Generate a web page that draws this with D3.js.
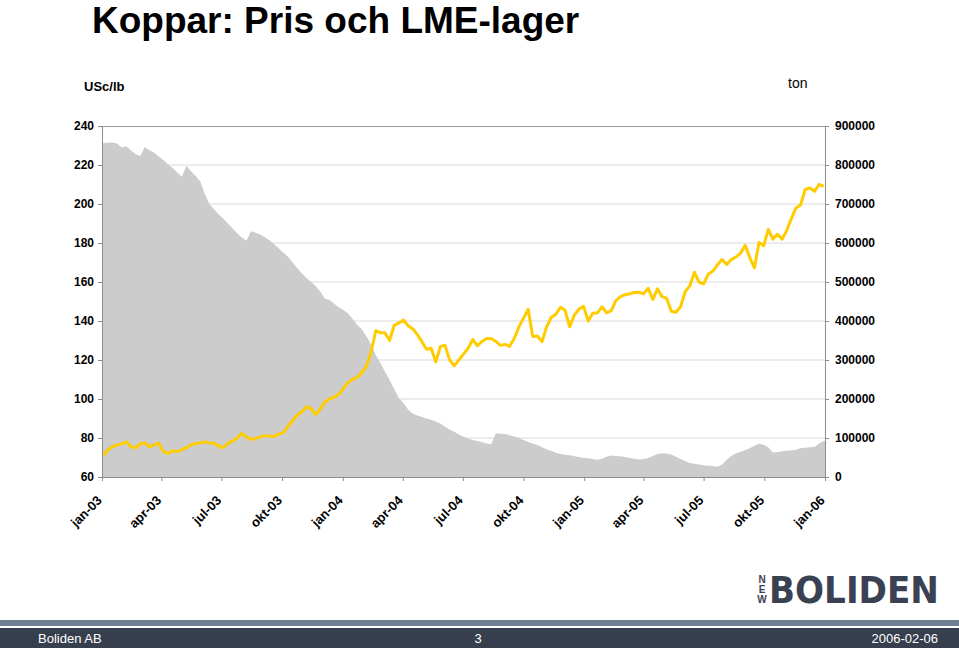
<!DOCTYPE html>
<html><head><meta charset="utf-8">
<script src="https://cdn.jsdelivr.net/npm/d3@7"></script>
<style>
html,body{margin:0;padding:0;background:#fff;}
svg{display:block;font-family:"Liberation Sans",Arial,sans-serif;}
</style></head>
<body>
<svg id="chart" width="959" height="648"></svg>
<script>
// ---- data (weekly, starting first Friday of 2003) ----
const startDate = "2003-01-03";
// copper price, USc/lb
const price = [71,74,75.5,76.5,77,78,75.5,75,77,77.5,75.5,76.5,77.4,73,72,73.5,73,74,75,76.5,
77.2,77.5,78,77.5,77.2,76,75,77.4,78.5,80,82.4,80.5,79.2,79.8,80.6,81.2,81,80.8,82,82.8,
86,89,91.8,93.5,96,95,92,95,98.5,100,101,102.5,105.5,108.5,110,111.2,113.5,117,124,135,
134,134,130,137.8,139,140.5,137.5,136,133,129.4,125.5,126,119,127,127.5,120,117,120,123,126,
130.5,127.3,129.5,131,131,129.5,127.5,128,127,131,137,141.5,146,132,132.3,129.4,137,141.8,143.5,147,
145.5,137,143,146,147.5,140,144,144.2,147.3,144.2,145.3,150.5,152.5,153.5,154,154.6,154.7,154,156.8,151,
156.5,152.5,151.6,145,144.5,147.3,155,158,165,160,159,164,165.6,168.8,171.5,169,171.5,172.8,174.8,178.8,
172.5,167.3,180.3,178.5,187,182,184.5,182,186.5,192.5,198,199.5,207.5,208.2,206.5,210,209];
// LME copper stocks, thousand tonnes
const stockK = [856,857,858,855,845,848,837,828,823,846,838,832,822,813,802,792,781,770,798,784,
772,758,725,700,686,673,662,650,637,625,614,606,630,626,622,615,607,597,586,575,
565,550,535,522,510,500,490,475,457,454,444,435,428,419,405,390,378,360,340,313,
292,270,249,225,202,190,173,163,158,154,150,147,142,137,129,122,116,109,103,99,
95,92,89,86,84,112,111,110,107,104,100,95,90,86,82,76,71,67,62,59,
57,56,53,51,49,48,46,44,47,52,55,54,53,51,49,47,45,46,49,54,
59,61,60,58,52,46,41,36,34,32,30,29,28,26,32,44,54,61,65,69,
74,80,85,83,76,63,64,66,67,68,70,74,75,76,77,86,92];
const leftTicks = [60,80,100,120,140,160,180,200,220,240];
const rightTicks = [0,100000,200000,300000,400000,500000,600000,700000,800000,900000];
const xTickLabels = ["jan-03","apr-03","jul-03","okt-03","jan-04","apr-04","jul-04","okt-04","jan-05","apr-05","jul-05","okt-05","jan-06"];

// ---- build ----
const parse = d3.timeParse("%Y-%m-%d");
const t0 = parse(startDate);
const rows = price.map((p,i)=>({date:d3.timeDay.offset(t0,7*i), price:p, stock:stockK[i]*1000}));
const xTickDates = xTickLabels.map((l,i)=>d3.timeMonth.offset(new Date(2003,0,1),3*i));

const L=102,R=825,T=126,B=477;
const svg=d3.select("#chart");
const x=d3.scaleTime().domain([new Date(2003,0,1),new Date(2006,0,1)]).range([L,R]);
const yL=d3.scaleLinear().domain([60,240]).range([B,T]);
const yR=d3.scaleLinear().domain([0,900000]).range([B,T]);

// title
svg.append("text").attr("x",92).attr("y",33).attr("font-size",37).attr("font-weight","bold")
  .attr("fill","#000").text("Koppar: Pris och LME-lager");
svg.append("text").attr("x",84).attr("y",91).attr("font-size",13).attr("font-weight","bold").text("USc/lb");
svg.append("text").attr("x",788).attr("y",88).attr("font-size",14).text("ton");

// gridlines
svg.append("g").selectAll("line").data(leftTicks.slice(1,-1)).join("line")
  .attr("x1",L).attr("x2",R).attr("y1",d=>yL(d)).attr("y2",d=>yL(d))
  .attr("stroke","#d9d9d9").attr("stroke-width",1);

// stock area
const area=d3.area().x(d=>x(d.date)).y0(B).y1(d=>yR(d.stock)).curve(d3.curveLinear);
const areaData=[{date:new Date(2003,0,1),stock:rows[0].stock},...rows,{date:new Date(2006,0,1),stock:rows[rows.length-1].stock}];
svg.append("path").datum(areaData).attr("d",area).attr("fill","#cccccc");

// price line
const line=d3.line().x(d=>x(d.date)).y(d=>yL(d.price));
svg.append("path").datum(rows).attr("d",line).attr("fill","none")
  .attr("stroke","#ffcc00").attr("stroke-width",3).attr("stroke-linejoin","round");

// frame top
svg.append("line").attr("x1",L).attr("x2",R).attr("y1",T+0.5).attr("y2",T+0.5).attr("stroke","#9a9a9a");

// axes
const axL=svg.append("g").attr("transform",`translate(${L},0)`)
  .call(d3.axisLeft(yL).tickValues(leftTicks).tickSize(4).tickFormat(d3.format("d")));
const axR=svg.append("g").attr("transform",`translate(${R},0)`)
  .call(d3.axisRight(yR).tickValues(rightTicks).tickSize(4).tickFormat(d3.format("d")));
const axB=svg.append("g").attr("transform",`translate(0,${B})`)
  .call(d3.axisBottom(x).tickValues(xTickDates).tickSize(4).tickFormat((d,i)=>xTickLabels[i]));
[axL,axR,axB].forEach(a=>{
  a.select(".domain").attr("stroke","#8c8c8c");
  a.selectAll(".tick line").attr("stroke","#8c8c8c");
  a.selectAll("text").attr("font-size",12).attr("font-weight","bold").attr("fill","#000")
   .attr("font-family","Liberation Sans, Arial, sans-serif");
});
axL.selectAll("text").attr("x",-8);
axR.selectAll("text").attr("x",10);
axB.selectAll("text").attr("font-size",13).attr("text-anchor","end").attr("x",0).attr("y",0).attr("dy","0.35em")
  .attr("transform","translate(-3,21) rotate(-45)");

// logo
const logo=svg.append("g");
["N","E","W"].forEach((c,i)=>{
  logo.append("text").attr("x",762).attr("y",583+i*10).attr("font-size",10).attr("font-weight","bold")
   .attr("text-anchor","middle").attr("fill","#3a4152").text(c);
});
logo.append("text").attr("x",769).attr("y",603).attr("font-size",38).attr("font-weight","bold")
  .attr("font-family","DejaVu Sans Condensed, DejaVu Sans, sans-serif").attr("font-stretch","condensed")
  .attr("fill","#3a4152").text("BOLIDEN");

// footer
svg.append("rect").attr("x",0).attr("y",620).attr("width",959).attr("height",6).attr("fill","#6f8093");
svg.append("rect").attr("x",0).attr("y",628).attr("width",959).attr("height",20).attr("fill","#373f4e");
svg.append("text").attr("x",38).attr("y",643).attr("font-size",13).attr("fill","#fff").text("Boliden AB");
svg.append("text").attr("x",478).attr("y",643).attr("font-size",13).attr("fill","#fff").attr("text-anchor","middle").text("3");
svg.append("text").attr("x",938).attr("y",643).attr("font-size",13).attr("fill","#fff").attr("text-anchor","end").text("2006-02-06");
</script>
</body></html>
